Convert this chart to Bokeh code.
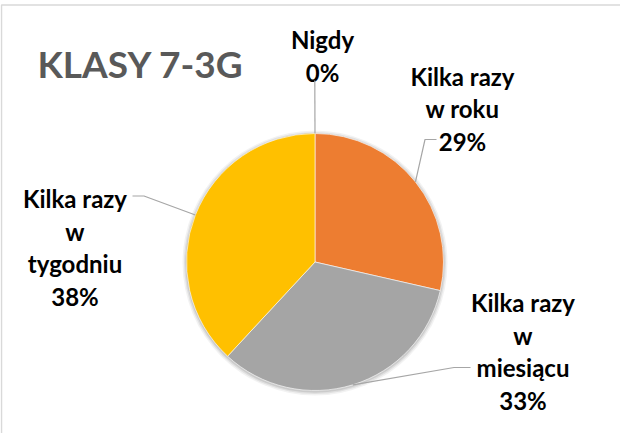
import math
from bokeh.plotting import figure
from bokeh.models import Range1d
from bokeh.core.properties import value
from bokeh.embed import file_html
from bokeh.resources import INLINE

# ---- data ----
title_text = "KLASY 7-3G"
categories = ["Nigdy", "Kilka razy\nw roku", "Kilka razy\nw\nmiesiącu", "Kilka razy\nw\ntygodniu"]
counts = [0, 6, 7, 8]
colors = ["#4472C4", "#ED7D31", "#A5A5A5", "#FFC000"]

# ---- layout (page pixel coordinates) ----
W, H = 620, 433
CX, CY, R = 322.5, 269.5, 128.5
FONT = "Lato"
LABEL_SIZE = "24px"
LINE_STEP = 32.5
# label block: (center x, first baseline y), leader line polyline points
label_pos = [
    (330, 47, [(322.3, 88), None]),
    (470, 83.5, [(444, 147), (432.5, 147), None]),
    (530.5, 310, [(478, 375), (461.5, 375), None]),
    (82.5, 206, [(140, 203.5), (151.5, 203.5), None]),
]

p = figure(width=W, height=H, output_backend="svg", toolbar_location=None,
           x_range=Range1d(8, 8 + W), y_range=Range1d(-(8 + H), -8),
           min_border=0, min_border_left=0, min_border_right=0,
           min_border_top=0, min_border_bottom=0)
p.axis.visible = False
p.grid.visible = False
p.outline_line_color = None
p.background_fill_color = "white"
p.border_fill_color = "white"

# chart area border (top and left visible)
p.line([9, 9, 8 + W], [-(8 + H), -12.5, -12.5], line_color="#D9D9D9", line_width=1.5)

def Y(py):
    return -py

# soft shadow
for k, a in [(4, 0.05), (2.5, 0.07), (1.2, 0.09)]:
    p.circle(x=[CX], y=[Y(CY + 1)], radius=R + k, fill_color="#000000",
             fill_alpha=a, line_color=None)

total = sum(counts)
cum = 0.0
mid_angles = []
for cat, v, col in zip(categories, counts, colors):
    frac0 = cum / total
    cum += v
    frac1 = cum / total
    start = math.pi / 2 - 2 * math.pi * frac0
    end = math.pi / 2 - 2 * math.pi * frac1
    mid_angles.append((start + end) / 2)
    if v > 0:
        p.wedge(x=[CX], y=[Y(CY)], radius=R, start_angle=start, end_angle=end,
                direction="clock", fill_color=col, line_color="white", line_width=0.6)

# labels + leader lines
for cat, v, ang, (lx, ly, pts) in zip(categories, counts, mid_angles, label_pos):
    pct = f"{round(v / total * 100)}%"
    lines = cat.split("\n") + [pct]
    for i, t in enumerate(lines):
        p.text(x=[lx], y=[Y(ly + i * LINE_STEP)], text=[t], text_font=value(FONT),
               text_font_style="bold", text_font_size=LABEL_SIZE, text_color="#000000",
               text_align="center", text_baseline="alphabetic")
    # leader: last point at pie edge along the slice mid angle
    ex = CX + R * math.cos(ang)
    ey = CY - R * math.sin(ang)
    xs = [q[0] for q in pts if q is not None] + [ex]
    ys = [Y(q[1]) for q in pts if q is not None] + [Y(ey)]
    p.line(xs, ys, line_color="#A6A6A6", line_width=1.2)

p.text(x=[45], y=[Y(71)], text=[title_text], text_font=value(FONT),
       text_font_style="bold", text_font_size="37px", text_color="#595959",
       text_align="left", text_baseline="alphabetic")

open("out.html", "w").write(file_html(p, INLINE))
